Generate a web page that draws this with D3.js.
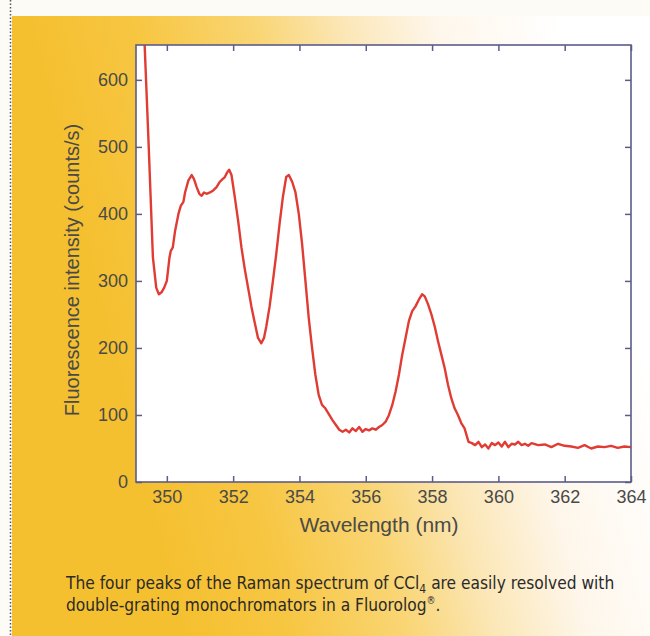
<!DOCTYPE html>
<html><head><meta charset="utf-8">
<script src="https://cdn.jsdelivr.net/npm/d3@7"></script>
<style>html,body{margin:0;padding:0;background:#fff;}svg{display:block;}</style>
</head><body>
<svg id="c" width="650" height="636"></svg>
<script>
const wavelength = [349.15,349.32,349.45,349.58,349.68,349.76,349.84,349.92,350.0,350.08,350.12,350.18,350.25,350.35,350.42,350.5,350.55,350.65,350.75,350.82,350.9,350.98,351.05,351.12,351.2,351.3,351.4,351.5,351.6,351.68,351.75,351.82,351.88,351.95,352.05,352.15,352.25,352.35,352.45,352.55,352.65,352.75,352.85,352.93,353.0,353.1,353.2,353.3,353.4,353.5,353.6,353.68,353.78,353.88,353.98,354.08,354.18,354.28,354.38,354.48,354.58,354.68,354.78,354.9,355.0,355.1,355.2,355.3,355.4,355.5,355.6,355.7,355.8,355.9,356.0,356.1,356.2,356.3,356.4,356.5,356.6,356.7,356.8,356.9,357.0,357.1,357.2,357.3,357.4,357.5,357.6,357.7,357.78,357.88,357.98,358.08,358.18,358.28,358.38,358.48,358.58,358.68,358.78,358.88,358.98,359.05,359.1,359.2,359.3,359.4,359.5,359.6,359.7,359.8,359.9,360.0,360.1,360.2,360.3,360.4,360.5,360.6,360.7,360.8,360.9,361.0,361.2,361.4,361.6,361.8,362.0,362.2,362.4,362.6,362.8,363.0,363.2,363.4,363.6,363.8,364.0];
const intensity = [905,665,505,335,290,280,283,290,300,335,345,350,375,400,412,418,432,450,458,452,440,430,427,432,430,432,435,440,448,452,455,462,466,458,425,390,350,318,290,262,238,215,207,215,232,262,300,340,385,425,455,458,448,432,400,355,300,245,200,160,130,115,110,100,92,85,78,75,78,74,80,76,82,75,79,77,80,78,82,85,90,100,115,135,160,190,215,240,255,262,272,280,277,265,250,232,210,190,170,145,125,110,100,88,80,68,60,58,55,60,52,56,50,58,55,59,53,60,52,57,56,60,55,57,54,58,55,56,52,57,54,53,51,55,50,53,52,54,51,53,52];
const xTicks = [350,352,354,356,358,360,362,364];
const yTicks = [0,100,200,300,400,500,600];
const xLabel = "Wavelength (nm)";
const yLabel = "Fluorescence intensity (counts/s)";

const svg = d3.select("#c");
const defs = svg.append("defs");
const g = defs.append("linearGradient").attr("id","bg").attr("gradientUnits","userSpaceOnUse")
  .attr("x1",100).attr("y1",300).attr("x2",600).attr("y2",175);
[[0,"#f5c030"],[0.2,"#f7c642"],[0.42,"#f9d574"],[0.58,"#fbe6b4"],[0.76,"#fef6ea"],[1,"#ffffff"]].forEach(s=>
  g.append("stop").attr("offset",s[0]).attr("stop-color",s[1]));

svg.append("rect").attr("x",0).attr("y",0).attr("width",650).attr("height",636).attr("fill","#fdfbf6");
svg.append("rect").attr("x",12).attr("y",16).attr("width",638).attr("height",620).attr("fill","url(#bg)");
svg.append("line").attr("x1",10.5).attr("x2",10.5).attr("y1",0).attr("y2",636)
  .attr("stroke","#555").attr("stroke-width",1.5).attr("stroke-dasharray","1.5,2");

const L=136,R=631,T=45,B=482;
const x = d3.scaleLinear().domain([349.07,364]).range([L,R]);
const y = d3.scaleLinear().domain([0,652]).range([B,T]);

svg.append("rect").attr("x",L).attr("y",T).attr("width",R-L).attr("height",B-T).attr("fill","#fff");
defs.append("clipPath").attr("id","clip").append("rect").attr("x",L).attr("y",T).attr("width",R-L).attr("height",B-T);

const line = d3.line().x((d,i)=>x(wavelength[i])).y(d=>y(d));
svg.append("path").datum(intensity).attr("d",line).attr("clip-path","url(#clip)")
  .attr("fill","none").attr("stroke","#e03c33").attr("stroke-width",2.4).attr("stroke-linejoin","round");

const axisColor="#5c5c8a", txtColor="#4a4a48";
const font="Liberation Sans, Arial, sans-serif";
function style(sel){
  sel.select(".domain").remove();
  sel.selectAll(".tick line").attr("stroke",axisColor).attr("stroke-width",1.5);
  sel.selectAll(".tick text").attr("fill",txtColor).attr("font-family",font).attr("font-size",18);
}
svg.append("g").attr("transform",`translate(0,${B})`).call(d3.axisBottom(x).tickValues(xTicks).tickSizeInner(-6).tickSizeOuter(0).tickPadding(8)).call(style);
svg.append("g").attr("transform",`translate(0,${T})`).call(d3.axisTop(x).tickValues(xTicks).tickSizeInner(-6).tickSizeOuter(0).tickFormat("")).call(style);
svg.append("g").attr("transform",`translate(${L},0)`).call(d3.axisLeft(y).tickValues(yTicks).tickSizeInner(-6).tickSizeOuter(0).tickPadding(8)).call(style);
svg.append("g").attr("transform",`translate(${R},0)`).call(d3.axisRight(y).tickValues(yTicks).tickSizeInner(-6).tickSizeOuter(0).tickFormat("")).call(style);

svg.append("rect").attr("x",L).attr("y",T).attr("width",R-L).attr("height",B-T)
  .attr("fill","none").attr("stroke",axisColor).attr("stroke-width",1.6);

svg.append("text").attr("x",379).attr("y",532).attr("text-anchor","middle")
  .attr("font-family",font).attr("font-size",21).attr("fill",txtColor).text(xLabel);
svg.append("text").attr("transform",`translate(79,270) rotate(-90)`).attr("text-anchor","middle")
  .attr("font-family",font).attr("font-size",20).attr("fill",txtColor).text(yLabel);

const cap = svg.append("text").attr("font-family","Liberation Sans Narrow, DejaVu Sans Condensed, sans-serif")
  .attr("font-size",17.2).attr("fill","#2a2a2a");
const t1 = cap.append("tspan").attr("x",66).attr("y",589);
t1.append("tspan").text("The four peaks of the Raman spectrum of CCl");
t1.append("tspan").attr("font-size",12).attr("dy",4).text("4");
t1.append("tspan").attr("dy",-4).text(" are easily resolved with");
const t2 = cap.append("tspan").attr("x",66).attr("y",611);
t2.append("tspan").text("double-grating monochromators in a Fluorolog");
t2.append("tspan").attr("font-size",10).attr("dy",-7).text("®");
t2.append("tspan").attr("dy",7).text(".");
</script>
</body></html>
